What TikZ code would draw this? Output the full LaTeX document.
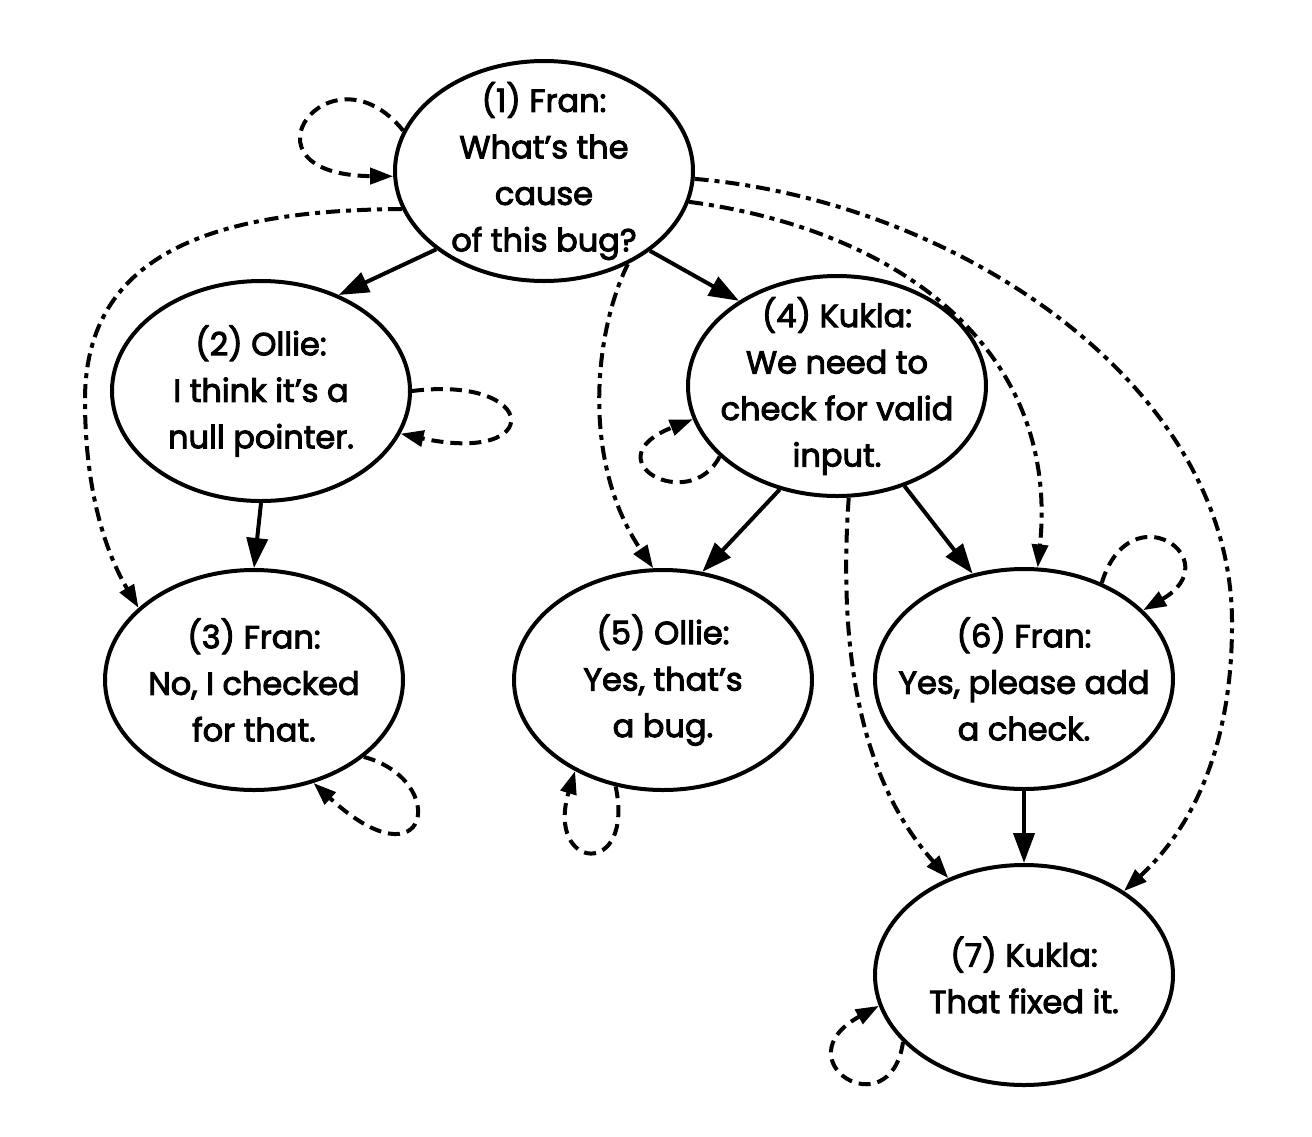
\documentclass[tikz,border=0pt]{standalone}
\usepackage{fontspec}
\setmainfont{Poppins}[FakeBold=3]
\usetikzlibrary{shapes.geometric,arrows.meta}
\begin{document}
\begin{tikzpicture}[x=1pt,y=-1pt,
  bub/.style={ellipse, draw, line width=4pt, minimum width=298pt, minimum height=220pt, inner sep=0pt},
  txt/.style={align=center, font=\fontsize{32}{46.5}\selectfont, inner sep=0pt},
  sa/.style={line width=4pt, -{Triangle[length=30pt,width=21pt]}},
  dd/.style={line width=4pt, dash pattern=on 14pt off 6pt on 5pt off 6pt, -{Triangle[length=23pt,width=16pt]}},
  lp/.style={line width=4pt, dash pattern=on 12pt off 7pt, -{Triangle[length=23pt,width=16pt]}}]
\useasboundingbox (0,0) rectangle (1312,1136);
\node[bub, label={[txt]center:{(1) Fran:\\What’s the\\cause\\of this bug?}}] (n1) at (544,171) {};
\node[bub, label={[txt]center:{(2) Ollie:\\I think it’s a\\null pointer.}}] (n2) at (261,391) {};
\node[bub, label={[txt]center:{(3) Fran:\\No, I checked\\for that.}}] (n3) at (254,680) {};
\node[bub, label={[txt]center:{(4) Kukla:\\We need to\\check for valid\\input.}}] (n4) at (837,386) {};
\node[bub, label={[txt]center:{(5) Ollie:\\Yes, that’s\\a bug.}}] (n5) at (663,680) {};
\node[bub, label={[txt]center:{(6) Fran:\\Yes, please add\\a check.}}] (n6) at (1024,679) {};
\node[bub, label={[txt]center:{(7) Kukla:\\That fixed it.}}] (n7) at (1024,975) {};
% solid
\draw[sa] (n1.216) -- (n2.51);
\draw[sa] (n1.323) -- (n4.139);
\draw[sa] (n2.south) -- (n3.north);
\draw[sa] (n4.241) -- (n5.70);
\draw[sa] (n4.304) -- (n6.116);
\draw[sa] (n6.south) -- (n7.north);
% dash-dot
\draw[dd] (n1.195) .. controls (220,210) and (85,250) .. (85,400) .. controls (85,500) and (110,560) .. (n3.148);
\draw[dd] (n1.-48) .. controls (595,330) and (580,460) .. (n5.95);
\draw[dd] (n1.-12) .. controls (900,230) and (1060,350) .. (n6.83);
\draw[dd] (n1.-3) .. controls (950,200) and (1230,380) .. (1232,620) .. controls (1233,750) and (1190,830) .. (n7.40);
\draw[dd] (n4.-84) .. controls (838,650) and (860,780) .. (n7.128);
% loops
\draw[lp] (n1.164) .. controls (330,40) and (230,175) .. (n1.182);
\draw[lp] (n2.0) .. controls (540,375) and (545,465) .. (n2.-17);
\draw[lp] (n3.-35) .. controls (450,780) and (430,890) .. (n3.-60);
\draw[lp] (n4.211) .. controls (690,515) and (590,460) .. (n4.193);
\draw[lp] (n5.246) .. controls (635,880) and (545,870) .. (n5.226);
\draw[lp] (n6.51) .. controls (1130,490) and (1230,560) .. (n6.30);
\draw[lp] (n7.209) .. controls (890,1130) and (780,1060) .. (n7.192);
\end{tikzpicture}
\end{document}
